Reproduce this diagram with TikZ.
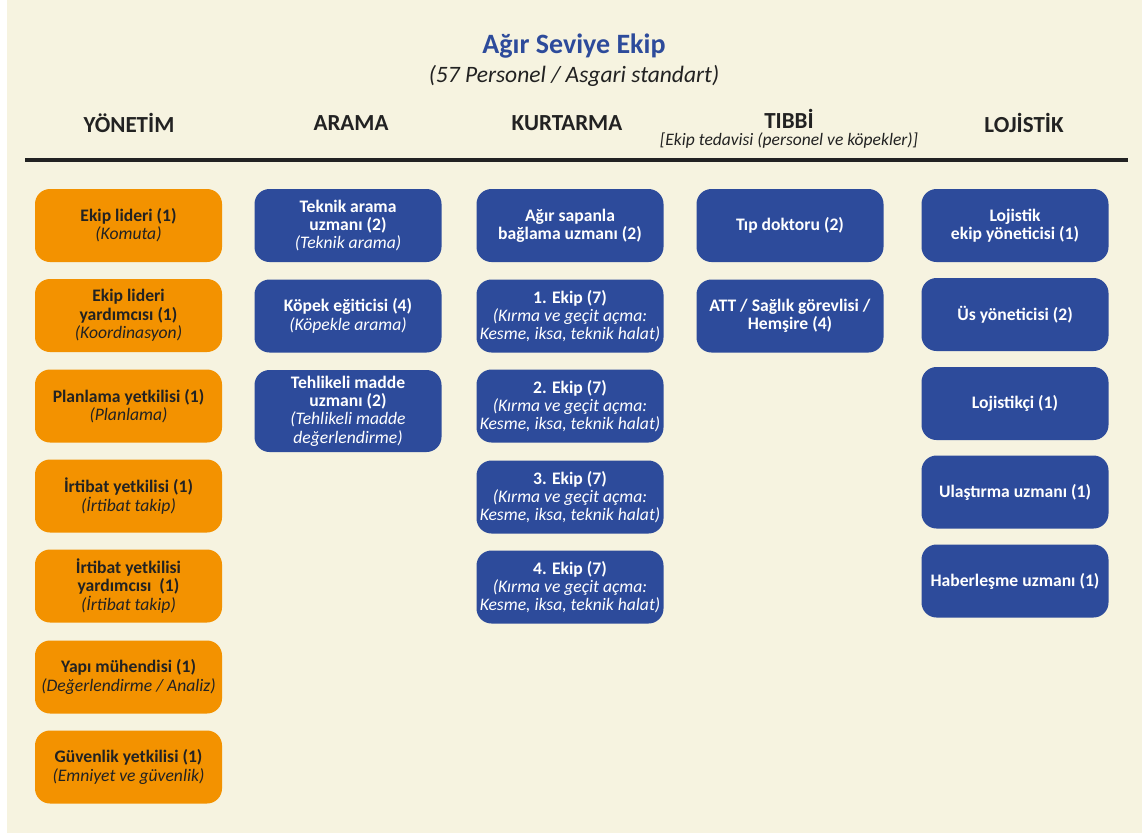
\documentclass[tikz,border=0pt]{standalone}
\usepackage{fontspec}
\setmainfont{Carlito}
\definecolor{bgcream}{HTML}{F6F3E0}
\definecolor{orangebox}{HTML}{F39200}
\definecolor{bluebox}{HTML}{2D4B9B}
\definecolor{titleblue}{HTML}{2D4B9B}
\definecolor{darktext}{HTML}{222222}
\tikzset{
  box/.style={rounded corners=15pt, minimum width=187pt, minimum height=73pt, inner sep=1pt, align=center, font=\fontsize{17.6}{18.3}\selectfont},
  obox/.style={box, fill=orangebox, text=darktext},
  bbox/.style={box, fill=bluebox, text=white},
  colhead/.style={font=\fontsize{23}{26}\selectfont\bfseries, text=darktext, inner sep=0pt},
}
\newcommand{\sub}[1]{\\\textit{#1}}
\begin{document}
\begin{tikzpicture}[x=1pt,y=-1pt]
\useasboundingbox (0,0) rectangle (1142,833);
\fill[white] (0,0) rectangle (1142,833);
\fill[bgcream] (7,0) rectangle (1142,833);

\node[font=\fontsize{28}{32}\selectfont\bfseries, text=titleblue] (title) at (574,46) {Ağır Seviye Ekip};
\node[font=\fontsize{23.5}{26}\selectfont\itshape, text=darktext] (subtitle) at (574,76) {(57 Personel / Asgari standart)};

\node[colhead] (h1) at (129,123) {YÖNETİM};
\node[colhead] (h2) at (351,123) {ARAMA};
\node[colhead] (h3) at (567,123) {KURTARMA};
\node[colhead] (h4) at (789,119) {TIBBİ};
\node[font=\fontsize{17.5}{19}\selectfont\itshape, text=darktext, inner sep=0pt] (h4s) at (789,141) {[Ekip tedavisi (personel ve köpekler)]};
\node[colhead] (h5) at (1024,123) {LOJİSTİK};

\coordinate (lineL) at (25,160);
\coordinate (lineR) at (1128,160);
\draw[line width=4pt, draw=darktext] (lineL) -- (lineR);

% YÖNETİM
\node[obox] (y1) at (128.5,225.5) {\textbf{Ekip lideri (1)}\sub{(Komuta)}};
\node[obox] (y2) at (128.5,315.5) {\textbf{Ekip lideri}\\\textbf{yardımcısı (1)}\sub{(Koordinasyon)}};
\node[obox] (y3) at (128.5,406) {\textbf{Planlama yetkilisi (1)}\sub{(Planlama)}};
\node[obox] (y4) at (128.5,496) {\textbf{İrtibat yetkilisi (1)}\sub{(İrtibat takip)}};
\node[obox] (y5) at (128.5,586) {\textbf{İrtibat yetkilisi}\\\textbf{yardımcısı\ \ (1)}\sub{(İrtibat takip)}};
\node[obox] (y6) at (128.5,677) {\textbf{Yapı mühendisi (1)}\sub{(Değerlendirme / Analiz)}};
\node[obox] (y7) at (128.5,767) {\textbf{Güvenlik yetkilisi (1)}\sub{(Emniyet ve güvenlik)}};

% ARAMA
\node[bbox] (a1) at (348,225.5) {\textbf{Teknik arama}\\\textbf{uzmanı (2)}\sub{(Teknik arama)}};
\node[bbox] (a2) at (348,316) {\textbf{Köpek eğiticisi (4)}\sub{(Köpekle arama)}};
\node[bbox, minimum height=82pt] (a3) at (348,411) {\textbf{Tehlikeli madde}\\\textbf{uzmanı (2)}\sub{(Tehlikeli madde}\\\textit{değerlendirme)}};

% KURTARMA
\node[bbox] (k1) at (570,225.5) {\textbf{Ağır sapanla}\\\textbf{bağlama uzmanı (2)}};
\node[bbox] (k2) at (570,316) {\textbf{1. Ekip (7)}\sub{(Kırma ve geçit açma:}\\\textit{Kesme, iksa, teknik halat)}};
\node[bbox] (k3) at (570,406) {\textbf{2. Ekip (7)}\sub{(Kırma ve geçit açma:}\\\textit{Kesme, iksa, teknik halat)}};
\node[bbox] (k4) at (570,497) {\textbf{3. Ekip (7)}\sub{(Kırma ve geçit açma:}\\\textit{Kesme, iksa, teknik halat)}};
\node[bbox] (k5) at (570,587) {\textbf{4. Ekip (7)}\sub{(Kırma ve geçit açma:}\\\textit{Kesme, iksa, teknik halat)}};

% TIBBİ
\node[bbox] (t1) at (790,225.5) {\textbf{Tıp doktoru (2)}};
\node[bbox] (t2) at (790,316) {\textbf{ATT / Sağlık görevlisi /}\\\textbf{Hemşire (4)}};

% LOJİSTİK
\node[bbox] (l1) at (1015,225.5) {\textbf{Lojistik}\\\textbf{ekip yöneticisi (1)}};
\node[bbox] (l2) at (1015,314.5) {\textbf{Üs yöneticisi (2)}};
\node[bbox] (l3) at (1015,403.5) {\textbf{Lojistikçi (1)}};
\node[bbox] (l4) at (1015,492) {\textbf{Ulaştırma uzmanı (1)}};
\node[bbox] (l5) at (1015,581) {\textbf{Haberleşme uzmanı (1)}};
\end{tikzpicture}
\end{document}
